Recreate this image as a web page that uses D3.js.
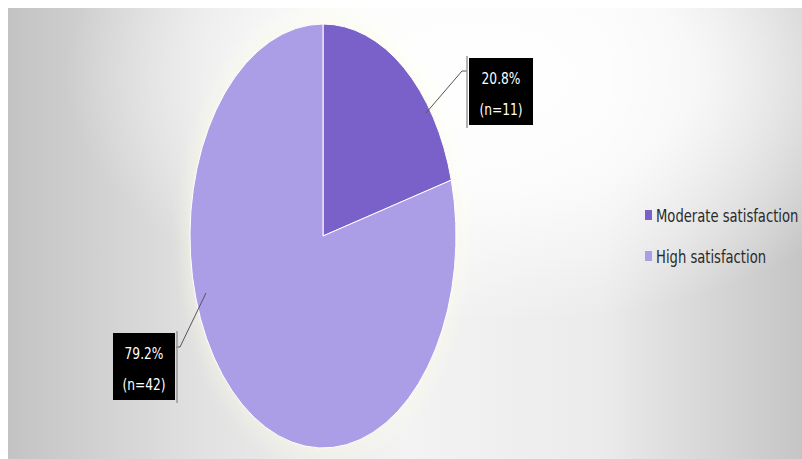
<!DOCTYPE html>
<html>
<head>
<meta charset="utf-8">
<script src="https://cdn.jsdelivr.net/npm/d3@7"></script>
<style>
  body { margin: 0; background: #fff; }
  text { font-family: "DejaVu Sans", sans-serif; font-stretch: condensed; }
</style>
</head>
<body>
<script>
// data
var categories = ["Moderate satisfaction", "High satisfaction"];
var counts = [11, 42];
var percents = ["20.8%", "79.2%"];
var colors = ["#7a60c9", "#ac9ee6"];

var width = 802, height = 459;

var svg = d3.select("body").append("svg")
    .attr("width", width)
    .attr("height", height);

// background: gray at the sides, white towards the top middle
var defs = svg.append("defs");
var lin = defs.append("linearGradient").attr("id", "bgl");
[[0, "#c3c3c3"], [0.25, "#e2e2e2"], [0.5, "#f3f3f3"], [0.75, "#ebebeb"], [1, "#c5c5c5"]]
    .forEach(function (s) { lin.append("stop").attr("offset", s[0]).attr("stop-color", s[1]); });

var rad = defs.append("radialGradient")
    .attr("id", "bgr")
    .attr("cx", 0.62).attr("cy", 0.15).attr("r", 0.55);
rad.append("stop").attr("offset", 0).attr("stop-color", "#fff").attr("stop-opacity", 1);
rad.append("stop").attr("offset", 0.45).attr("stop-color", "#fff").attr("stop-opacity", 0.8);
rad.append("stop").attr("offset", 1).attr("stop-color", "#fff").attr("stop-opacity", 0);

var glow = defs.append("filter").attr("id", "glow")
    .attr("x", -0.2).attr("y", -0.2).attr("width", 1.4).attr("height", 1.4);
glow.append("feGaussianBlur").attr("stdDeviation", 6);

svg.append("rect")
    .attr("x", 8).attr("y", 8)
    .attr("width", width - 8).attr("height", height - 8)
    .attr("fill", "url(#bgl)");
svg.append("rect")
    .attr("x", 8).attr("y", 8)
    .attr("width", width - 8).attr("height", height - 8)
    .attr("fill", "url(#bgr)");

// pie (stretched into an ellipse)
var cx = 323, cy = 236, rx = 133, ry = 212;

var pie = d3.pie().sort(null).value(function (d) { return d; });
var arc = d3.arc().innerRadius(0).outerRadius(100);
var arcs = pie(counts);

var pieGroup = svg.append("g")
    .attr("transform", "translate(" + cx + "," + cy + ") scale(" + (rx / 100) + "," + (ry / 100) + ")");

pieGroup.append("ellipse")
    .attr("rx", 103).attr("ry", 102)
    .attr("fill", "#fdfde8")
    .attr("opacity", 0.6)
    .attr("filter", "url(#glow)");

pieGroup.selectAll("path")
    .data(arcs)
    .enter()
    .append("path")
    .attr("d", arc)
    .attr("fill", function (d, i) { return colors[i]; })
    .attr("stroke", "#ffffff")
    .attr("stroke-width", 1)
    .attr("vector-effect", "non-scaling-stroke");

// narrow, tall text (stand-in for the condensed office font)
function tallText(g, x, y, size, sx, str) {
    return g.append("text")
        .attr("transform", "translate(" + x + "," + y + ") scale(" + sx + ",1)")
        .attr("font-size", size)
        .text(str);
}

// data labels (black boxes with leader lines)
var labels = [
    { box: [469, 58, 64, 67], line: [[426, 113], [462, 71], [467, 71]], side: 467 },
    { box: [113, 333, 62, 67], line: [[206, 293], [180, 347], [176, 347]], side: 177 }
];

var labelGroup = svg.append("g");
labels.forEach(function (l, i) {
    labelGroup.append("path")
        .attr("d", d3.line()(l.line))
        .attr("fill", "none")
        .attr("stroke", "#555")
        .attr("stroke-width", 1);
    labelGroup.append("line")
        .attr("x1", l.side).attr("x2", l.side)
        .attr("y1", l.box[1] - 2).attr("y2", l.box[1] + l.box[3] + 3)
        .attr("stroke", "#999").attr("stroke-width", 1.5);
    labelGroup.append("rect")
        .attr("x", l.box[0]).attr("y", l.box[1])
        .attr("width", l.box[2]).attr("height", l.box[3])
        .attr("fill", "#000");
    var mx = l.box[0] + l.box[2] / 2;
    tallText(labelGroup, mx, l.box[1] + 26, 16, 0.85, percents[i])
        .attr("text-anchor", "middle").attr("fill", "#fff");
    tallText(labelGroup, mx, l.box[1] + 57, 16, 0.85, "(n=" + counts[i] + ")")
        .attr("text-anchor", "middle").attr("fill", "#fff");
});

// legend
var legend = svg.append("g").attr("transform", "translate(645,207)");
categories.forEach(function (c, i) {
    var y = i * 41;
    legend.append("rect")
        .attr("x", 0).attr("y", y + 3)
        .attr("width", 7).attr("height", 10)
        .attr("fill", colors[i]);
    tallText(legend, 11, y + 15, 17, 0.86, c).attr("fill", "#2a2a2a");
});
</script>
</body>
</html>
